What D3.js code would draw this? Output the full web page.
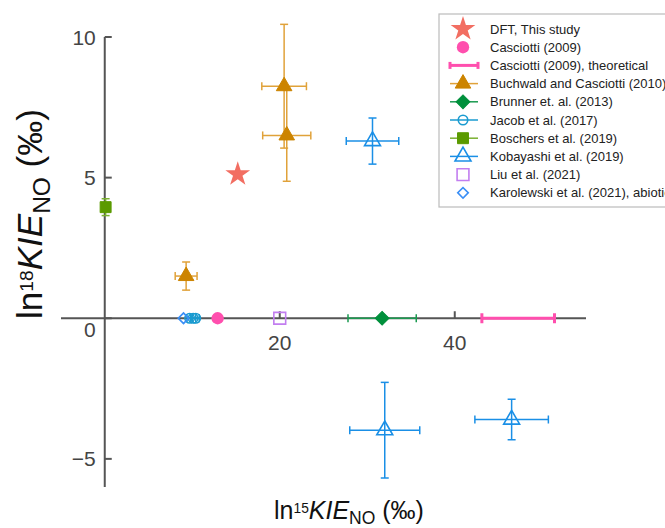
<!DOCTYPE html>
<html>
<head>
<meta charset="utf-8">
<script src="https://cdn.jsdelivr.net/npm/d3@7"></script>
<style>
  body { margin: 0; background: #fff; }
  svg { font-family: "Liberation Sans", Arial, sans-serif; }
</style>
</head>
<body>
<svg id="chart" width="665" height="528"></svg>
<script>
// ---- data ----
const xTicks = [20, 40];
const yTicks = [-5, 0, 5, 10];

const dft = [{ x: 15.2, y: 5.12 }];
const casciotti = [{ x: 12.9, y: 0 }];
const casciottiTheory = [{ x0: 43.1, x1: 51.4, y: 0 }];
const buchwald = [
  { x: 20.5, y: 8.25, xe: 2.55, ye: 2.2 },
  { x: 20.8, y: 6.5, xe: 2.75, ye: 1.63 },
  { x: 9.3, y: 1.5, xe: 1.25, ye: 0.5 }
];
const brunner = [{ x: 31.7, y: 0, xe: 3.9, ye: 0 }];
const jacob = [
  { x: 9.7, y: 0, xe: 0.3, ye: 0 },
  { x: 10.1, y: 0, xe: 0.3, ye: 0 },
  { x: 10.4, y: 0, xe: 0.4, ye: 0 }
];
const boschers = [{ x: 0.1, y: 3.95, xe: 0, ye: 0.3 }];
const kobayashi = [
  { x: 30.6, y: 6.3, xe: 3.0, ye: 0.82 },
  { x: 32.0, y: -3.98, xe: 4.0, ye: 1.7 },
  { x: 46.5, y: -3.6, xe: 4.2, ye: 0.72 }
];
const liu = [{ x: 20.0, y: 0 }];
const karolewski = [{ x: 9.0, y: 0 }];

const legendNames = [
  "DFT, This study",
  "Casciotti (2009)",
  "Casciotti (2009), theoretical",
  "Buchwald and Casciotti (2010)",
  "Brunner et. al. (2013)",
  "Jacob et al. (2017)",
  "Boschers et al. (2019)",
  "Kobayashi et al. (2019)",
  "Liu et al. (2021)",
  "Karolewski et al. (2021), abiotic"
];

// ---- layout ----
const svg = d3.select("#chart");
const x = d3.scaleLinear().domain([-5, 55]).range([61, 586]);
const y = d3.scaleLinear().domain([-6, 10]).range([487, 37]);
const axisColor = "#555";

// series styles: symbol, fill, stroke, error colour
const styles = [
  { data: dft, sym: d3.symbolStar, size: 190, fill: "#f26e62", stroke: "none" },
  { data: casciotti, sym: d3.symbolCircle, size: 120, fill: "#ff4fae", stroke: "none" },
  { data: null, line: true, color: "#ff4fae" },
  { data: buchwald, sym: d3.symbolTriangle, size: 105, fill: "#cc8400", stroke: "#cc8400", err: "#e0a23a" },
  { data: brunner, sym: d3.symbolSquare, rot: 45, size: 95, fill: "#00903c", stroke: "#00903c", err: "#1a9a50" },
  { data: jacob, sym: d3.symbolCircle, size: 70, fill: "none", stroke: "#1a9bd0", err: "#1a9bd0", open: true },
  { data: boschers, sym: d3.symbolSquare, size: 120, fill: "#5b9a00", stroke: "#5b9a00", err: "#7ab030" },
  { data: kobayashi, sym: d3.symbolTriangle, size: 110, fill: "none", stroke: "#1a8fe6", err: "#1a8fe6", open: true },
  { data: liu, sym: d3.symbolSquare, size: 140, fill: "none", stroke: "#c27ef0", open: true },
  { data: karolewski, sym: d3.symbolSquare, rot: 45, size: 55, fill: "none", stroke: "#3a8ef6", open: true }
];

// ---- axes ----
const axes = svg.append("g");
axes.append("line")
  .attr("x1", x(-5)).attr("x2", x(55))
  .attr("y1", y(0)).attr("y2", y(0))
  .attr("stroke", axisColor).attr("stroke-width", 2);
axes.append("line")
  .attr("x1", x(0)).attr("x2", x(0))
  .attr("y1", y(10)).attr("y2", y(-6))
  .attr("stroke", axisColor).attr("stroke-width", 2);

axes.selectAll(".ytick").data(yTicks).enter().append("line")
  .attr("x1", x(0)).attr("x2", x(0) + 7)
  .attr("y1", d => y(d)).attr("y2", d => y(d))
  .attr("stroke", axisColor).attr("stroke-width", 2);
axes.selectAll(".ylab").data(yTicks).enter().append("text")
  .attr("x", x(0) - 9)
  .attr("y", d => (d === 0 ? y(d) + 11 : y(d)))
  .attr("dy", "0.36em")
  .attr("text-anchor", "end")
  .attr("font-size", 21)
  .attr("fill", "#444")
  .text(d => (d < 0 ? "\u2212" + Math.abs(d) : d));

axes.selectAll(".xtick").data(xTicks).enter().append("line")
  .attr("x1", d => x(d)).attr("x2", d => x(d))
  .attr("y1", y(0)).attr("y2", y(0) - 7)
  .attr("stroke", axisColor).attr("stroke-width", 2);
axes.selectAll(".xlab").data(xTicks).enter().append("text")
  .attr("x", d => x(d))
  .attr("y", y(0) + 24)
  .attr("dy", "0.36em")
  .attr("text-anchor", "middle")
  .attr("font-size", 21)
  .attr("fill", "#444")
  .text(d => d);

// ---- axis titles ----
function title(g, size) {
  const t = g.append("text").attr("font-size", size).attr("fill", "#111");
  t.append("tspan").text("ln");
  t.append("tspan").attr("font-size", size * 0.55).attr("baseline-shift", "45%").text(g.attr("data-iso"));
  t.append("tspan").attr("font-style", "italic").text("KIE");
  t.append("tspan").attr("font-size", size * 0.7).attr("baseline-shift", "-30%").text("NO");
  t.append("tspan").text(" (\u2030)");
  return t;
}
const xt = svg.append("g").attr("data-iso", "15")
  .attr("transform", "translate(349,519)");
title(xt, 25).attr("text-anchor", "middle");
const yt = svg.append("g").attr("data-iso", "18")
  .attr("transform", "translate(42,214) rotate(-90)");
title(yt, 35).attr("text-anchor", "middle");

// ---- error bars ----
const eb = svg.append("g");
const cap = 4;
styles.forEach(s => {
  if (!s.data || !s.err) return;
  s.data.forEach(d => {
    if (d.xe) {
      eb.append("line").attr("x1", x(d.x - d.xe)).attr("x2", x(d.x + d.xe))
        .attr("y1", y(d.y)).attr("y2", y(d.y)).attr("stroke", s.err).attr("stroke-width", 1.5);
      [d.x - d.xe, d.x + d.xe].forEach(v => eb.append("line")
        .attr("x1", x(v)).attr("x2", x(v)).attr("y1", y(d.y) - cap).attr("y2", y(d.y) + cap)
        .attr("stroke", s.err).attr("stroke-width", 1.5));
    }
    if (d.ye) {
      eb.append("line").attr("x1", x(d.x)).attr("x2", x(d.x))
        .attr("y1", y(d.y - d.ye)).attr("y2", y(d.y + d.ye)).attr("stroke", s.err).attr("stroke-width", 1.5);
      [d.y - d.ye, d.y + d.ye].forEach(v => eb.append("line")
        .attr("x1", x(d.x) - cap).attr("x2", x(d.x) + cap).attr("y1", y(v)).attr("y2", y(v))
        .attr("stroke", s.err).attr("stroke-width", 1.5));
    }
  });
});

// theoretical range
casciottiTheory.forEach(d => {
  eb.append("line").attr("x1", x(d.x0)).attr("x2", x(d.x1))
    .attr("y1", y(d.y)).attr("y2", y(d.y)).attr("stroke", "#ff4fae").attr("stroke-width", 3);
  [d.x0, d.x1].forEach(v => eb.append("line")
    .attr("x1", x(v)).attr("x2", x(v)).attr("y1", y(d.y) - 5).attr("y2", y(d.y) + 5)
    .attr("stroke", "#ff4fae").attr("stroke-width", 3));
});

// ---- markers ----
const mk = svg.append("g");
function marker(g, s, cx, cy, scale) {
  g.append("path")
    .attr("d", d3.symbol().type(s.sym).size(s.size * (scale || 1))())
    .attr("transform", `translate(${cx},${cy}) rotate(${s.rot || 0})`)
    .attr("fill", s.open ? "none" : s.fill)
    .attr("stroke", s.stroke)
    .attr("stroke-width", s.open ? 1.6 : 1);
}
styles.forEach(s => {
  if (!s.data) return;
  s.data.forEach(d => marker(mk, s, x(d.x), y(d.y)));
});

// ---- legend ----
const lg = svg.append("g");
lg.append("rect").attr("x", 439).attr("y", 14).attr("width", 240).attr("height", 193)
  .attr("fill", "#fff").attr("stroke", "#bbb").attr("stroke-width", 1.2);
legendNames.forEach((name, i) => {
  const s = styles[i];
  const cy = 29 + i * 18.2;
  const row = lg.append("g");
  if (s.line) {
    row.append("line").attr("x1", 450).attr("x2", 478).attr("y1", cy).attr("y2", cy)
      .attr("stroke", s.color).attr("stroke-width", 3);
    [450, 478].forEach(v => row.append("line").attr("x1", v).attr("x2", v)
      .attr("y1", cy - 3.5).attr("y2", cy + 3.5).attr("stroke", s.color).attr("stroke-width", 3));
  } else {
    if (s.err) {
      row.append("line").attr("x1", 450).attr("x2", 478).attr("y1", cy).attr("y2", cy)
        .attr("stroke", s.err).attr("stroke-width", 1.5);
    }
    marker(row, s, 463, cy);
  }
  row.append("text").attr("x", 490).attr("y", cy).attr("dy", "0.35em")
    .attr("font-size", 13).attr("fill", "#222").text(name);
});
</script>
</body>
</html>
